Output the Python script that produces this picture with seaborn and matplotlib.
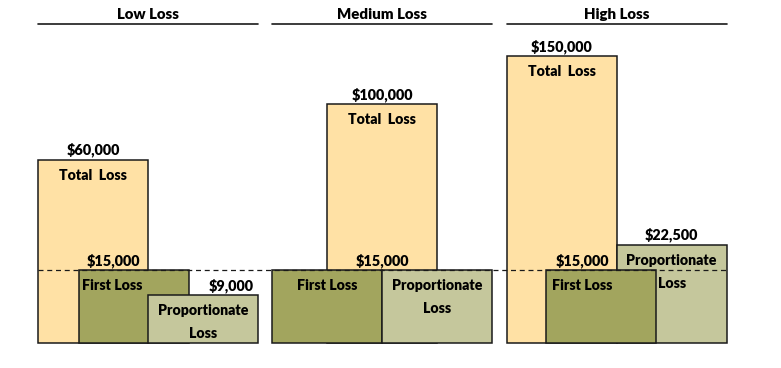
import numpy as np
import pandas as pd
import seaborn as sns
import matplotlib.pyplot as plt

# values
scenarios = ['Low Loss', 'Medium Loss', 'High Loss']
series = ['Total Loss', 'First Loss', 'Proportionate Loss']
total_loss = [60000, 100000, 150000]
first_loss = [15000, 15000, 15000]
prop_loss = [9000, 15000, 22500]
inner_labels = ['Total  Loss', 'First Loss', 'Proportionate\nLoss']
colors = ['#FFE1A5', '#A2A55E', '#C5C79C']

# schematic layout, in bar widths (each panel is 2 bars wide)
panel_step = 2.13
bar_pos = [[0.5, 0.87, 1.5],    # total, first, proportionate
           [1.0, 0.5, 1.5],
           [0.5, 0.86, 1.5]]
value_nudge = [[0, -0.18, 0.26],  # None -> no value label
               [0, 0.5, None],
               [0, -0.17, 0]]
inner_nudge = [[0, -0.2, 0],
               [0, 0, 0],
               [0, -0.17, 0]]

W, H = 781, 368
bar_px = 110      # bar width in pixels
left_px = 38      # left edge of first panel
base_px = 25.3    # baseline above bottom edge
c = 22000         # compression of the value axis
px_per_unit = 139.2
pt = 0.72         # points per pixel at 100 dpi


def main():
    sns.set_theme(style='white')
    plt.rcParams['font.family'] = ['Lato', 'DejaVu Sans']
    txt = dict(fontweight='heavy', color='black')

    all_vals = [total_loss, first_loss, prop_loss]
    rows = []
    for i, sc in enumerate(scenarios):
        for j, vals in enumerate(all_vals):
            rows.append({'scenario': sc, 'series': series[j], 'value': vals[i],
                         'x': i * panel_step + bar_pos[i][j]})
    df = pd.DataFrame(rows)

    fig = plt.figure(figsize=(W / 100, H / 100), dpi=100)
    ax = fig.add_axes([0, 0, 1, 1])
    unit = np.diff(np.unique(df['x'])).min()
    sns.barplot(data=df, x='x', y='value', hue='series', hue_order=series,
                palette=colors, native_scale=True, dodge=False, width=1 / unit,
                errorbar=None, saturation=1, edgecolor='#1a1a1a', linewidth=1.1,
                legend=False, ax=ax)

    # taller bars sit behind shorter ones
    top = df['value'].max()
    for p in ax.patches:
        p.set_zorder(3 - p.get_height() / top)

    ax.set_yscale('function', functions=(lambda v: np.log1p(v / c),
                                         lambda t: np.expm1(t) * c))
    ax.set_ylim(c * np.expm1(-base_px / px_per_unit),
                c * np.expm1((H - base_px) / px_per_unit))
    ax.set_xlim(-left_px / bar_px, (W - left_px) / bar_px)
    ax.axis('off')

    # dashed first-loss level across all panels
    ax.hlines(first_loss[0], 0, 2 * panel_step + 2, colors='#1a1a1a',
              linestyles=(0, (4, 3)), linewidth=0.9, zorder=5)

    trans = ax.get_xaxis_transform()
    for i, sc in enumerate(scenarios):
        x0 = i * panel_step
        ax.plot([x0, x0 + 2], [1 - 24 / H] * 2, transform=trans,
                color='#1a1a1a', lw=1.2, clip_on=False)
        ax.text(x0 + 1, 1 - 19 / H, sc, transform=trans, ha='center',
                va='baseline', fontsize=10.8, **txt)

        for j, vals in enumerate(all_vals):
            x = i * panel_step + bar_pos[i][j]
            v = vals[i]
            if value_nudge[i][j] is not None:
                ax.annotate(f'${v:,}', (x + value_nudge[i][j], v),
                            xytext=(0, 5 * pt), textcoords='offset points',
                            ha='center', va='baseline', fontsize=10.4,
                            zorder=6, **txt)
            for k, line in enumerate(inner_labels[j].split('\n')):
                ax.annotate(line, (x + inner_nudge[i][j], v),
                            xytext=(0, -(20 + 23 * k) * pt),
                            textcoords='offset points', ha='center',
                            va='baseline', fontsize=10.2, zorder=6, **txt)

    plt.savefig('out.png', dpi=100)


if __name__ == '__main__':
    main()
